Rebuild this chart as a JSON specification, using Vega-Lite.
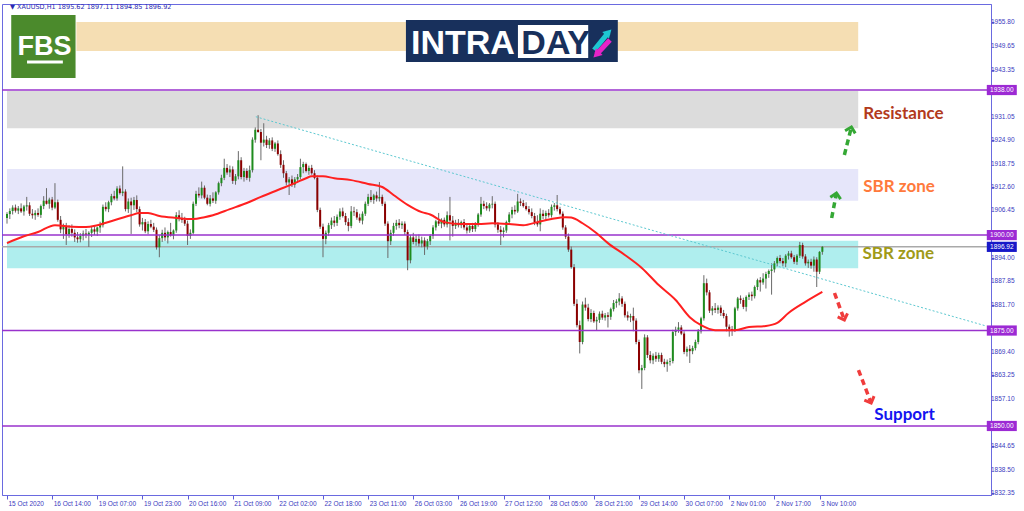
{
"$schema": "https://vega.github.io/schema/vega-lite/v6.json",
"width": 989, "height": 491,
"autosize": {"type": "none"},
"padding": {"left": 2, "top": 4, "right": 33, "bottom": 16},
"background": "white",
"config": {
 "view": {"stroke": "#6a6ae0", "strokeWidth": 1},
 "axis": {"labelFont": "Liberation Sans", "labelFontSize": 6.5, "labelColor": "#3a3ac0", "tickColor": "#5a5ad8", "domainColor": "#6a6ae0", "grid": false, "tickSize": 3, "title": null, "labelOverlap": false, "labelFlush": false, "labelSeparation": 0},
 "axisY": {"labelOverlap": false},
 "axisRight": {"labelOverlap": false},
 "axisQuantitative": {"labelOverlap": false}
},
"resolve": {"scale": {"color": "independent"}},
"datasets": {
 "zones": [
  {"zone": "banner", "x1": 24.6, "x2": 301.7, "p1": 1948.21, "p2": 1955.81},
  {"zone": "resistance", "x1": 0, "x2": 301.7, "p1": 1928.0, "p2": 1937.74},
  {"zone": "sbr_upper", "x1": 0, "x2": 301.7, "p1": 1909.0, "p2": 1917.31},
  {"zone": "sbr_lower", "x1": 0, "x2": 301.7, "p1": 1891.3, "p2": 1898.53}
 ],
 "bid": [{"p": 1896.92}],
 "levels": [{"p": 1938}, {"p": 1900}, {"p": 1875}, {"p": 1850}],
 "candles": [
{"i":0,"o":1904.5,"h":1906.0,"l":1903.0,"c":1905.5},
{"i":1,"o":1905.5,"h":1907.0,"l":1904.2,"c":1906.3},
{"i":2,"o":1906.3,"h":1907.8,"l":1905.4,"c":1907.2},
{"i":3,"o":1907.2,"h":1908.0,"l":1905.9,"c":1906.4},
{"i":4,"o":1906.4,"h":1907.6,"l":1905.5,"c":1907.0},
{"i":5,"o":1907.0,"h":1908.3,"l":1905.8,"c":1906.2},
{"i":6,"o":1906.2,"h":1907.9,"l":1905.1,"c":1907.5},
{"i":7,"o":1907.5,"h":1910.0,"l":1906.4,"c":1907.8},
{"i":8,"o":1907.8,"h":1908.6,"l":1905.0,"c":1905.6},
{"i":9,"o":1905.6,"h":1906.8,"l":1904.3,"c":1905.2},
{"i":10,"o":1905.2,"h":1906.5,"l":1904.0,"c":1905.8},
{"i":11,"o":1905.8,"h":1907.0,"l":1904.8,"c":1905.3},
{"i":12,"o":1905.3,"h":1908.0,"l":1904.5,"c":1907.6},
{"i":13,"o":1907.6,"h":1910.2,"l":1906.8,"c":1909.0},
{"i":14,"o":1909.0,"h":1912.3,"l":1908.0,"c":1908.2},
{"i":15,"o":1908.2,"h":1909.8,"l":1906.9,"c":1909.3},
{"i":16,"o":1909.3,"h":1910.0,"l":1906.5,"c":1907.2},
{"i":17,"o":1907.2,"h":1913.6,"l":1906.8,"c":1908.6},
{"i":18,"o":1908.6,"h":1909.3,"l":1903.5,"c":1904.0},
{"i":19,"o":1904.0,"h":1905.0,"l":1900.5,"c":1901.5},
{"i":20,"o":1901.5,"h":1903.0,"l":1899.0,"c":1902.3},
{"i":21,"o":1902.3,"h":1903.2,"l":1897.4,"c":1900.2},
{"i":22,"o":1900.2,"h":1902.6,"l":1899.3,"c":1901.6},
{"i":23,"o":1901.6,"h":1902.8,"l":1899.6,"c":1900.6},
{"i":24,"o":1900.6,"h":1901.5,"l":1898.2,"c":1899.4},
{"i":25,"o":1899.4,"h":1900.8,"l":1898.0,"c":1898.9},
{"i":26,"o":1898.9,"h":1900.5,"l":1898.1,"c":1899.8},
{"i":27,"o":1899.8,"h":1901.2,"l":1898.6,"c":1900.4},
{"i":28,"o":1900.4,"h":1901.6,"l":1899.2,"c":1900.1},
{"i":29,"o":1900.1,"h":1901.0,"l":1896.9,"c":1900.6},
{"i":30,"o":1900.6,"h":1902.2,"l":1899.5,"c":1901.5},
{"i":31,"o":1901.5,"h":1902.6,"l":1900.0,"c":1900.9},
{"i":32,"o":1900.9,"h":1902.2,"l":1899.8,"c":1902.0},
{"i":33,"o":1902.0,"h":1903.5,"l":1900.6,"c":1902.6},
{"i":34,"o":1902.6,"h":1908.0,"l":1902.0,"c":1907.4},
{"i":35,"o":1907.4,"h":1908.6,"l":1906.2,"c":1906.8},
{"i":36,"o":1906.8,"h":1909.0,"l":1906.0,"c":1908.6},
{"i":37,"o":1908.6,"h":1910.8,"l":1907.8,"c":1910.2},
{"i":38,"o":1910.2,"h":1911.6,"l":1909.1,"c":1909.6},
{"i":39,"o":1909.6,"h":1912.8,"l":1909.0,"c":1912.2},
{"i":40,"o":1912.2,"h":1913.0,"l":1910.6,"c":1911.0},
{"i":41,"o":1911.0,"h":1918.0,"l":1910.2,"c":1911.4},
{"i":42,"o":1911.4,"h":1912.0,"l":1906.2,"c":1906.8},
{"i":43,"o":1906.8,"h":1909.6,"l":1905.8,"c":1908.8},
{"i":44,"o":1908.8,"h":1909.8,"l":1900.3,"c":1907.8},
{"i":45,"o":1907.8,"h":1910.0,"l":1906.6,"c":1909.2},
{"i":46,"o":1909.2,"h":1910.4,"l":1906.0,"c":1906.8},
{"i":47,"o":1906.8,"h":1907.5,"l":1902.2,"c":1902.8},
{"i":48,"o":1902.8,"h":1904.5,"l":1901.2,"c":1903.4},
{"i":49,"o":1903.4,"h":1904.2,"l":1900.5,"c":1901.0},
{"i":50,"o":1901.0,"h":1903.6,"l":1900.2,"c":1902.9},
{"i":51,"o":1902.9,"h":1904.0,"l":1901.8,"c":1902.2},
{"i":52,"o":1902.2,"h":1903.2,"l":1900.8,"c":1901.4},
{"i":53,"o":1901.4,"h":1902.0,"l":1896.2,"c":1896.8},
{"i":54,"o":1896.8,"h":1900.0,"l":1894.2,"c":1899.2},
{"i":55,"o":1899.2,"h":1901.4,"l":1898.2,"c":1900.6},
{"i":56,"o":1900.6,"h":1902.0,"l":1898.5,"c":1899.4},
{"i":57,"o":1899.4,"h":1901.2,"l":1897.8,"c":1900.8},
{"i":58,"o":1900.8,"h":1903.2,"l":1899.6,"c":1899.9},
{"i":59,"o":1899.9,"h":1901.5,"l":1898.9,"c":1901.2},
{"i":60,"o":1901.2,"h":1906.0,"l":1900.6,"c":1905.2},
{"i":61,"o":1905.2,"h":1906.5,"l":1903.6,"c":1904.5},
{"i":62,"o":1904.5,"h":1905.8,"l":1903.2,"c":1904.0},
{"i":63,"o":1904.0,"h":1904.8,"l":1902.4,"c":1903.0},
{"i":64,"o":1903.0,"h":1903.8,"l":1897.4,"c":1899.8},
{"i":65,"o":1899.8,"h":1901.5,"l":1899.0,"c":1900.6},
{"i":66,"o":1900.6,"h":1908.8,"l":1900.2,"c":1908.2},
{"i":67,"o":1908.2,"h":1911.6,"l":1907.6,"c":1910.8},
{"i":68,"o":1910.8,"h":1912.5,"l":1909.8,"c":1910.4},
{"i":69,"o":1910.4,"h":1914.0,"l":1909.6,"c":1912.4},
{"i":70,"o":1912.4,"h":1913.0,"l":1909.4,"c":1909.8},
{"i":71,"o":1909.8,"h":1910.6,"l":1907.8,"c":1908.2},
{"i":72,"o":1908.2,"h":1910.5,"l":1907.5,"c":1909.6},
{"i":73,"o":1909.6,"h":1911.2,"l":1908.4,"c":1909.0},
{"i":74,"o":1909.0,"h":1911.5,"l":1908.2,"c":1911.2},
{"i":75,"o":1911.2,"h":1914.0,"l":1910.6,"c":1913.6},
{"i":76,"o":1913.6,"h":1915.8,"l":1912.8,"c":1915.0},
{"i":77,"o":1915.0,"h":1920.0,"l":1914.4,"c":1917.6},
{"i":78,"o":1917.6,"h":1918.6,"l":1915.8,"c":1916.4},
{"i":79,"o":1916.4,"h":1918.2,"l":1915.2,"c":1917.2},
{"i":80,"o":1917.2,"h":1918.0,"l":1913.4,"c":1914.2},
{"i":81,"o":1914.2,"h":1916.0,"l":1913.2,"c":1915.4},
{"i":82,"o":1915.4,"h":1922.0,"l":1914.6,"c":1919.6},
{"i":83,"o":1919.6,"h":1920.4,"l":1914.6,"c":1915.2},
{"i":84,"o":1915.2,"h":1917.6,"l":1914.0,"c":1916.8},
{"i":85,"o":1916.8,"h":1917.5,"l":1914.4,"c":1915.0},
{"i":86,"o":1915.0,"h":1918.2,"l":1914.0,"c":1917.0},
{"i":87,"o":1917.0,"h":1925.6,"l":1916.4,"c":1925.0},
{"i":88,"o":1925.0,"h":1928.2,"l":1924.2,"c":1927.6},
{"i":89,"o":1927.6,"h":1931.4,"l":1926.8,"c":1927.0},
{"i":90,"o":1927.0,"h":1927.8,"l":1919.6,"c":1924.2},
{"i":91,"o":1924.2,"h":1929.3,"l":1923.2,"c":1925.0},
{"i":92,"o":1925.0,"h":1926.0,"l":1922.8,"c":1923.6},
{"i":93,"o":1923.6,"h":1925.4,"l":1922.6,"c":1924.8},
{"i":94,"o":1924.8,"h":1925.6,"l":1922.0,"c":1922.6},
{"i":95,"o":1922.6,"h":1924.4,"l":1921.8,"c":1924.0},
{"i":96,"o":1924.0,"h":1924.8,"l":1920.8,"c":1921.2},
{"i":97,"o":1921.2,"h":1922.2,"l":1917.6,"c":1918.4},
{"i":98,"o":1918.4,"h":1919.6,"l":1915.0,"c":1916.2},
{"i":99,"o":1916.2,"h":1916.8,"l":1913.0,"c":1913.8},
{"i":100,"o":1913.8,"h":1915.2,"l":1910.5,"c":1914.6},
{"i":101,"o":1914.6,"h":1915.6,"l":1912.6,"c":1913.2},
{"i":102,"o":1913.2,"h":1915.2,"l":1912.4,"c":1914.6},
{"i":103,"o":1914.6,"h":1916.0,"l":1913.8,"c":1915.2},
{"i":104,"o":1915.2,"h":1920.0,"l":1914.6,"c":1917.8},
{"i":105,"o":1917.8,"h":1919.2,"l":1916.2,"c":1918.6},
{"i":106,"o":1918.6,"h":1919.0,"l":1916.4,"c":1916.8},
{"i":107,"o":1916.8,"h":1918.2,"l":1915.8,"c":1917.6},
{"i":108,"o":1917.6,"h":1918.4,"l":1915.8,"c":1916.2},
{"i":109,"o":1916.2,"h":1917.0,"l":1914.6,"c":1915.0},
{"i":110,"o":1915.0,"h":1915.6,"l":1906.0,"c":1906.6},
{"i":111,"o":1906.6,"h":1907.2,"l":1901.6,"c":1902.2},
{"i":112,"o":1902.2,"h":1903.0,"l":1894.2,"c":1899.0},
{"i":113,"o":1899.0,"h":1901.2,"l":1897.6,"c":1900.6},
{"i":114,"o":1900.6,"h":1903.2,"l":1899.8,"c":1902.6},
{"i":115,"o":1902.6,"h":1904.6,"l":1901.6,"c":1903.8},
{"i":116,"o":1903.8,"h":1905.0,"l":1902.2,"c":1903.2},
{"i":117,"o":1903.2,"h":1905.4,"l":1902.4,"c":1904.8},
{"i":118,"o":1904.8,"h":1907.0,"l":1904.0,"c":1906.2},
{"i":119,"o":1906.2,"h":1907.2,"l":1904.6,"c":1905.0},
{"i":120,"o":1905.0,"h":1905.8,"l":1902.6,"c":1903.4},
{"i":121,"o":1903.4,"h":1904.4,"l":1901.0,"c":1902.4},
{"i":122,"o":1902.4,"h":1907.6,"l":1901.8,"c":1906.2},
{"i":123,"o":1906.2,"h":1907.4,"l":1905.0,"c":1906.0},
{"i":124,"o":1906.0,"h":1906.8,"l":1904.0,"c":1904.6},
{"i":125,"o":1904.6,"h":1905.6,"l":1903.2,"c":1903.8},
{"i":126,"o":1903.8,"h":1906.2,"l":1902.8,"c":1905.6},
{"i":127,"o":1905.6,"h":1908.8,"l":1905.0,"c":1908.2},
{"i":128,"o":1908.2,"h":1910.8,"l":1907.6,"c":1910.0},
{"i":129,"o":1910.0,"h":1911.8,"l":1908.6,"c":1909.2},
{"i":130,"o":1909.2,"h":1910.8,"l":1908.2,"c":1910.4},
{"i":131,"o":1910.4,"h":1911.4,"l":1908.8,"c":1909.6},
{"i":132,"o":1909.6,"h":1913.9,"l":1908.8,"c":1910.0},
{"i":133,"o":1910.0,"h":1910.6,"l":1907.6,"c":1908.2},
{"i":134,"o":1908.2,"h":1908.8,"l":1902.4,"c":1903.0},
{"i":135,"o":1903.0,"h":1903.6,"l":1894.0,"c":1898.4},
{"i":136,"o":1898.4,"h":1901.4,"l":1897.4,"c":1900.6},
{"i":137,"o":1900.6,"h":1903.2,"l":1899.8,"c":1902.4},
{"i":138,"o":1902.4,"h":1904.0,"l":1901.4,"c":1903.2},
{"i":139,"o":1903.2,"h":1904.2,"l":1901.8,"c":1902.6},
{"i":140,"o":1902.6,"h":1903.6,"l":1901.6,"c":1903.0},
{"i":141,"o":1903.0,"h":1903.6,"l":1900.0,"c":1900.8},
{"i":142,"o":1900.8,"h":1901.4,"l":1890.8,"c":1893.4},
{"i":143,"o":1893.4,"h":1900.0,"l":1892.6,"c":1899.4},
{"i":144,"o":1899.4,"h":1900.6,"l":1897.6,"c":1898.2},
{"i":145,"o":1898.2,"h":1900.0,"l":1897.2,"c":1899.0},
{"i":146,"o":1899.0,"h":1900.2,"l":1897.0,"c":1897.8},
{"i":147,"o":1897.8,"h":1899.6,"l":1896.8,"c":1898.6},
{"i":148,"o":1898.6,"h":1899.4,"l":1894.8,"c":1897.0},
{"i":149,"o":1897.0,"h":1899.0,"l":1896.2,"c":1898.4},
{"i":150,"o":1898.4,"h":1900.2,"l":1897.4,"c":1899.8},
{"i":151,"o":1899.8,"h":1902.6,"l":1899.0,"c":1902.0},
{"i":152,"o":1902.0,"h":1904.0,"l":1901.2,"c":1903.6},
{"i":153,"o":1903.6,"h":1905.8,"l":1902.4,"c":1903.0},
{"i":154,"o":1903.0,"h":1904.4,"l":1901.8,"c":1904.0},
{"i":155,"o":1904.0,"h":1904.6,"l":1902.2,"c":1902.8},
{"i":156,"o":1902.8,"h":1906.2,"l":1902.0,"c":1905.2},
{"i":157,"o":1905.2,"h":1910.0,"l":1898.6,"c":1903.8},
{"i":158,"o":1903.8,"h":1905.0,"l":1899.6,"c":1902.4},
{"i":159,"o":1902.4,"h":1904.0,"l":1901.6,"c":1903.2},
{"i":160,"o":1903.2,"h":1904.2,"l":1902.0,"c":1902.6},
{"i":161,"o":1902.6,"h":1903.8,"l":1901.8,"c":1903.4},
{"i":162,"o":1903.4,"h":1904.2,"l":1901.4,"c":1902.0},
{"i":163,"o":1902.0,"h":1903.0,"l":1900.4,"c":1901.2},
{"i":164,"o":1901.2,"h":1902.8,"l":1900.6,"c":1902.4},
{"i":165,"o":1902.4,"h":1903.2,"l":1900.8,"c":1901.6},
{"i":166,"o":1901.6,"h":1903.4,"l":1900.9,"c":1902.8},
{"i":167,"o":1902.8,"h":1905.8,"l":1902.2,"c":1905.4},
{"i":168,"o":1905.4,"h":1910.0,"l":1904.8,"c":1908.2},
{"i":169,"o":1908.2,"h":1909.0,"l":1906.8,"c":1907.6},
{"i":170,"o":1907.6,"h":1908.6,"l":1906.4,"c":1907.0},
{"i":171,"o":1907.0,"h":1908.4,"l":1906.2,"c":1908.0},
{"i":172,"o":1908.0,"h":1910.2,"l":1907.0,"c":1908.2},
{"i":173,"o":1908.2,"h":1908.8,"l":1902.0,"c":1902.8},
{"i":174,"o":1902.8,"h":1903.4,"l":1900.6,"c":1901.4},
{"i":175,"o":1901.4,"h":1902.4,"l":1897.4,"c":1900.8},
{"i":176,"o":1900.8,"h":1902.0,"l":1899.4,"c":1901.2},
{"i":177,"o":1901.2,"h":1903.8,"l":1900.6,"c":1903.4},
{"i":178,"o":1903.4,"h":1906.0,"l":1902.8,"c":1905.4},
{"i":179,"o":1905.4,"h":1907.4,"l":1904.4,"c":1906.6},
{"i":180,"o":1906.6,"h":1907.8,"l":1905.4,"c":1906.2},
{"i":181,"o":1906.2,"h":1910.8,"l":1905.8,"c":1908.8},
{"i":182,"o":1908.8,"h":1909.6,"l":1907.6,"c":1908.4},
{"i":183,"o":1908.4,"h":1909.2,"l":1907.2,"c":1907.6},
{"i":184,"o":1907.6,"h":1908.6,"l":1906.4,"c":1906.8},
{"i":185,"o":1906.8,"h":1907.6,"l":1905.4,"c":1906.0},
{"i":186,"o":1906.0,"h":1907.0,"l":1904.4,"c":1905.0},
{"i":187,"o":1905.0,"h":1905.8,"l":1902.6,"c":1903.4},
{"i":188,"o":1903.4,"h":1905.2,"l":1902.2,"c":1902.8},
{"i":189,"o":1902.8,"h":1907.0,"l":1901.0,"c":1905.6},
{"i":190,"o":1905.6,"h":1906.6,"l":1904.2,"c":1905.0},
{"i":191,"o":1905.0,"h":1906.4,"l":1904.0,"c":1905.8},
{"i":192,"o":1905.8,"h":1906.8,"l":1904.6,"c":1905.2},
{"i":193,"o":1905.2,"h":1908.0,"l":1904.6,"c":1907.4},
{"i":194,"o":1907.4,"h":1908.4,"l":1906.4,"c":1907.8},
{"i":195,"o":1907.8,"h":1910.5,"l":1906.2,"c":1906.8},
{"i":196,"o":1906.8,"h":1907.4,"l":1905.2,"c":1905.6},
{"i":197,"o":1905.6,"h":1906.2,"l":1901.4,"c":1902.0},
{"i":198,"o":1902.0,"h":1902.6,"l":1899.0,"c":1899.6},
{"i":199,"o":1899.6,"h":1900.4,"l":1895.6,"c":1896.2},
{"i":200,"o":1896.2,"h":1897.0,"l":1891.2,"c":1891.6},
{"i":201,"o":1891.6,"h":1892.4,"l":1881.4,"c":1882.0},
{"i":202,"o":1882.0,"h":1883.2,"l":1875.8,"c":1876.4},
{"i":203,"o":1876.4,"h":1877.6,"l":1869.0,"c":1872.0},
{"i":204,"o":1872.0,"h":1882.6,"l":1871.4,"c":1881.8},
{"i":205,"o":1881.8,"h":1883.6,"l":1880.2,"c":1881.0},
{"i":206,"o":1881.0,"h":1882.0,"l":1877.4,"c":1878.0},
{"i":207,"o":1878.0,"h":1880.6,"l":1877.2,"c":1879.6},
{"i":208,"o":1879.6,"h":1880.2,"l":1877.0,"c":1877.4},
{"i":209,"o":1877.4,"h":1878.6,"l":1875.1,"c":1877.8},
{"i":210,"o":1877.8,"h":1880.0,"l":1877.0,"c":1879.4},
{"i":211,"o":1879.4,"h":1880.2,"l":1877.8,"c":1878.4},
{"i":212,"o":1878.4,"h":1879.6,"l":1877.6,"c":1879.0},
{"i":213,"o":1879.0,"h":1879.8,"l":1875.8,"c":1878.6},
{"i":214,"o":1878.6,"h":1881.0,"l":1877.8,"c":1880.6},
{"i":215,"o":1880.6,"h":1883.0,"l":1880.0,"c":1882.2},
{"i":216,"o":1882.2,"h":1883.2,"l":1881.0,"c":1882.6},
{"i":217,"o":1882.6,"h":1884.8,"l":1881.6,"c":1883.4},
{"i":218,"o":1883.4,"h":1884.0,"l":1881.2,"c":1882.0},
{"i":219,"o":1882.0,"h":1882.6,"l":1878.4,"c":1879.0},
{"i":220,"o":1879.0,"h":1880.0,"l":1877.6,"c":1878.4},
{"i":221,"o":1878.4,"h":1879.4,"l":1877.2,"c":1878.8},
{"i":222,"o":1878.8,"h":1881.0,"l":1874.8,"c":1877.6},
{"i":223,"o":1877.6,"h":1878.2,"l":1871.4,"c":1872.0},
{"i":224,"o":1872.0,"h":1872.6,"l":1863.8,"c":1864.6},
{"i":225,"o":1864.6,"h":1866.0,"l":1859.7,"c":1865.2},
{"i":226,"o":1865.2,"h":1874.0,"l":1864.6,"c":1873.2},
{"i":227,"o":1873.2,"h":1873.8,"l":1867.8,"c":1868.6},
{"i":228,"o":1868.6,"h":1869.6,"l":1866.4,"c":1867.2},
{"i":229,"o":1867.2,"h":1869.0,"l":1866.2,"c":1868.4},
{"i":230,"o":1868.4,"h":1869.4,"l":1866.8,"c":1867.6},
{"i":231,"o":1867.6,"h":1869.2,"l":1866.8,"c":1868.6},
{"i":232,"o":1868.6,"h":1869.2,"l":1866.2,"c":1866.8},
{"i":233,"o":1866.8,"h":1867.6,"l":1865.4,"c":1866.2},
{"i":234,"o":1866.2,"h":1867.4,"l":1864.2,"c":1866.8},
{"i":235,"o":1866.8,"h":1867.8,"l":1865.8,"c":1867.0},
{"i":236,"o":1867.0,"h":1875.2,"l":1866.4,"c":1874.6},
{"i":237,"o":1874.6,"h":1876.0,"l":1873.6,"c":1875.2},
{"i":238,"o":1875.2,"h":1877.2,"l":1874.4,"c":1875.8},
{"i":239,"o":1875.8,"h":1876.4,"l":1873.8,"c":1874.2},
{"i":240,"o":1874.2,"h":1874.8,"l":1868.8,"c":1869.4},
{"i":241,"o":1869.4,"h":1870.8,"l":1868.2,"c":1870.2},
{"i":242,"o":1870.2,"h":1871.2,"l":1866.5,"c":1869.6},
{"i":243,"o":1869.6,"h":1871.0,"l":1868.8,"c":1870.4},
{"i":244,"o":1870.4,"h":1872.6,"l":1869.8,"c":1872.0},
{"i":245,"o":1872.0,"h":1875.4,"l":1871.4,"c":1874.8},
{"i":246,"o":1874.8,"h":1878.6,"l":1874.2,"c":1878.2},
{"i":247,"o":1878.2,"h":1889.5,"l":1877.6,"c":1887.4},
{"i":248,"o":1887.4,"h":1888.6,"l":1884.2,"c":1885.0},
{"i":249,"o":1885.0,"h":1885.6,"l":1879.6,"c":1880.2},
{"i":250,"o":1880.2,"h":1881.4,"l":1879.0,"c":1880.8},
{"i":251,"o":1880.8,"h":1882.2,"l":1879.6,"c":1880.4},
{"i":252,"o":1880.4,"h":1881.6,"l":1879.4,"c":1881.0},
{"i":253,"o":1881.0,"h":1881.6,"l":1878.8,"c":1879.6},
{"i":254,"o":1879.6,"h":1880.4,"l":1878.2,"c":1878.8},
{"i":255,"o":1878.8,"h":1879.4,"l":1874.8,"c":1876.0},
{"i":256,"o":1876.0,"h":1876.6,"l":1873.4,"c":1875.4},
{"i":257,"o":1875.4,"h":1876.2,"l":1873.6,"c":1875.0},
{"i":258,"o":1875.0,"h":1881.2,"l":1874.6,"c":1880.8},
{"i":259,"o":1880.8,"h":1883.8,"l":1880.2,"c":1883.4},
{"i":260,"o":1883.4,"h":1884.2,"l":1882.0,"c":1883.0},
{"i":261,"o":1883.0,"h":1883.6,"l":1880.6,"c":1881.2},
{"i":262,"o":1881.2,"h":1884.2,"l":1880.0,"c":1883.8},
{"i":263,"o":1883.8,"h":1885.0,"l":1883.0,"c":1884.4},
{"i":264,"o":1884.4,"h":1885.2,"l":1882.8,"c":1884.0},
{"i":265,"o":1884.0,"h":1886.8,"l":1883.4,"c":1886.4},
{"i":266,"o":1886.4,"h":1888.6,"l":1885.6,"c":1888.2},
{"i":267,"o":1888.2,"h":1889.0,"l":1885.2,"c":1887.6},
{"i":268,"o":1887.6,"h":1890.0,"l":1887.0,"c":1888.6},
{"i":269,"o":1888.6,"h":1890.4,"l":1886.0,"c":1889.8},
{"i":270,"o":1889.8,"h":1891.0,"l":1888.8,"c":1890.6},
{"i":271,"o":1890.6,"h":1892.6,"l":1884.4,"c":1891.0},
{"i":272,"o":1891.0,"h":1893.2,"l":1890.2,"c":1892.6},
{"i":273,"o":1892.6,"h":1894.4,"l":1891.8,"c":1894.0},
{"i":274,"o":1894.0,"h":1894.8,"l":1892.6,"c":1893.2},
{"i":275,"o":1893.2,"h":1894.0,"l":1891.8,"c":1892.6},
{"i":276,"o":1892.6,"h":1895.0,"l":1891.6,"c":1894.6},
{"i":277,"o":1894.6,"h":1895.8,"l":1893.6,"c":1895.2},
{"i":278,"o":1895.2,"h":1895.9,"l":1893.8,"c":1894.2},
{"i":279,"o":1894.2,"h":1894.8,"l":1892.4,"c":1893.0},
{"i":280,"o":1893.0,"h":1895.0,"l":1892.2,"c":1894.6},
{"i":281,"o":1894.6,"h":1898.2,"l":1894.0,"c":1897.4},
{"i":282,"o":1897.4,"h":1898.0,"l":1893.8,"c":1894.4},
{"i":283,"o":1894.4,"h":1895.0,"l":1892.0,"c":1892.6},
{"i":284,"o":1892.6,"h":1893.6,"l":1891.4,"c":1893.0},
{"i":285,"o":1893.0,"h":1893.8,"l":1891.2,"c":1892.0},
{"i":286,"o":1892.0,"h":1894.4,"l":1890.4,"c":1893.6},
{"i":287,"o":1893.6,"h":1894.2,"l":1886.4,"c":1890.4},
{"i":288,"o":1890.4,"h":1895.8,"l":1889.8,"c":1895.6},
{"i":289,"o":1895.62,"h":1897.11,"l":1894.85,"c":1896.92}
 ],
 "ma": [
{"i":0,"v":1897.9},{"i":6,"v":1899.7},{"i":11,"v":1900.8},{"i":17,"v":1902.6},{"i":23,"v":1902.2},{"i":28,"v":1902.1},{"i":32,"v":1902.6},{"i":38,"v":1903.9},{"i":44,"v":1905.2},{"i":47,"v":1905.8},{"i":50,"v":1905.8},{"i":54,"v":1905.0},{"i":60,"v":1904.5},{"i":66,"v":1904.2},{"i":70,"v":1904.7},{"i":73,"v":1905.2},{"i":79,"v":1906.8},{"i":85,"v":1908.4},{"i":90,"v":1910.0},{"i":96,"v":1911.8},{"i":102,"v":1913.6},{"i":106,"v":1914.9},{"i":108,"v":1915.4},{"i":112,"v":1915.4},{"i":116,"v":1914.9},{"i":122,"v":1914.4},{"i":128,"v":1913.4},{"i":133,"v":1912.6},{"i":137,"v":1910.5},{"i":142,"v":1907.9},{"i":147,"v":1906.0},{"i":150,"v":1905.4},{"i":155,"v":1903.4},{"i":161,"v":1902.9},{"i":167,"v":1902.9},{"i":172,"v":1903.1},{"i":178,"v":1902.9},{"i":183,"v":1902.6},{"i":188,"v":1903.4},{"i":193,"v":1904.2},{"i":198,"v":1904.7},{"i":200,"v":1904.6},{"i":204,"v":1903.1},{"i":209,"v":1900.5},{"i":213,"v":1897.9},{"i":219,"v":1894.8},{"i":225,"v":1891.4},{"i":231,"v":1886.9},{"i":237,"v":1883.0},{"i":242,"v":1878.5},{"i":246,"v":1876.4},{"i":251,"v":1875.1},{"i":258,"v":1875.1},{"i":263,"v":1875.9},{"i":269,"v":1876.2},{"i":273,"v":1877.0},{"i":277,"v":1879.6},{"i":283,"v":1882.5},{"i":289,"v":1885.1}
 ],
 "trend": [{"i": 88.2, "p": 1931.0}, {"i": 347, "p": 1876.2}],
 "arrows": [
  {"dir": "up", "i1": 292.3, "p1": 1904.47, "i2": 294.0, "p2": 1911.02, "heading": 11},
  {"dir": "up", "i1": 296.8, "p1": 1920.98, "i2": 299.3, "p2": 1928.31, "heading": 14},
  {"dir": "down", "i1": 293.3, "p1": 1884.83, "i2": 296.8, "p2": 1877.76, "heading": 160},
  {"dir": "down", "i1": 301.8, "p1": 1864.66, "i2": 306.3, "p2": 1856.02, "heading": 158}
 ],
 "notes": [
  {"t": "Resistance", "kind": "res", "i": 303.5, "p": 1931.71},
  {"t": "SBR zone", "kind": "sbr1", "i": 303.5, "p": 1912.59},
  {"t": "SBR zone", "kind": "sbr2", "i": 303.2, "p": 1895.05},
  {"t": "Support", "kind": "sup", "i": 307.4, "p": 1852.88}
 ],
 "pricetags": [
  {"p": 1938, "t": "1938.00", "kind": "level"},
  {"p": 1900, "t": "1900.00", "kind": "level"},
  {"p": 1875, "t": "1875.00", "kind": "level"},
  {"p": 1850, "t": "1850.00", "kind": "level"},
  {"p": 1896.92, "t": "1896.92", "kind": "bid"}
 ],
 "ylabels": [
  {"p": 1955.8}, {"p": 1949.65}, {"p": 1943.35}, {"p": 1931.05}, {"p": 1924.9}, {"p": 1918.75}, {"p": 1912.6}, {"p": 1906.45}, {"p": 1894.0}, {"p": 1887.85}, {"p": 1881.7}, {"p": 1869.4}, {"p": 1863.25}, {"p": 1857.1}, {"p": 1844.65}, {"p": 1838.5}, {"p": 1832.35}
 ],
 "header": [{"t": "▼ XAUUSD,H1  1895.62 1897.11 1894.85 1896.92", "i": 1.05, "p": 1959.74}],
 "fbsbox": [{"i1": 1.5, "i2": 24.3, "p1": 1941.14, "p2": 1957.64}],
 "fbsline": [{"i1": 7.1, "i2": 19.8, "p": 1945.33}],
 "fbstext": [{"t": "FBS", "i": 13.3, "p": 1947.3}],
 "navy": [{"i1": 141.4, "i2": 216.5, "p1": 1945.33, "p2": 1956.33}],
 "daybox": [{"i1": 181.1, "i2": 206.0, "p1": 1946.38, "p2": 1955.02}],
 "logotext": [
  {"t": "INTRA", "part": "a", "i": 143.2, "p": 1947.56},
  {"t": "DAY", "part": "b", "i": 182.3, "p": 1947.56}
 ],
 "icon": [
  {"part": "up", "i1": 208.1, "p1": 1948.48, "i2": 213.2, "p2": 1953.1, "heading": 45},
  {"part": "down", "i1": 213.7, "p1": 1951.1, "i2": 208.9, "p2": 1947.3, "heading": 225}
 ]
},
"layer": [
 {
  "data": {"name": "zones"},
  "mark": {"type": "rect"},
  "encoding": {
   "x": {"field": "x1", "type": "quantitative", "scale": {"domain": [0, 347], "nice": false, "zero": false},
    "axis": {"orient": "bottom", "values": [0,16,32,48,64,80,96,112,128,144,160,176,192,208,224,240,256,272,288],
     "labelExpr": "['15 Oct 2020','16 Oct 14:00','19 Oct 07:00','19 Oct 23:00','20 Oct 16:00','21 Oct 09:00','22 Oct 02:00','22 Oct 18:00','23 Oct 11:00','26 Oct 03:00','26 Oct 19:00','27 Oct 12:00','28 Oct 05:00','28 Oct 21:00','29 Oct 14:00','30 Oct 07:00','2 Nov 01:00','2 Nov 17:00','3 Nov 10:00'][round(datum.value/16)]",
     "labelAlign": "left", "labelOffset": 1, "labelPadding": 1, "labelFlush": false, "labelOverlap": false, "tickSize": 4, "title": null}},
   "x2": {"field": "x2"},
   "y": {"field": "p1", "type": "quantitative", "scale": {"domain": [1831.92, 1960.53], "nice": false, "zero": false},
    "axis": {"orient": "right", "values": [1955.8,1949.65,1943.35,1931.05,1924.9,1918.75,1912.6,1906.45,1894.0,1887.85,1881.7,1869.4,1863.25,1857.1,1844.65,1838.5,1832.35],
     "labels": false, "tickSize": 3, "title": null}},
   "y2": {"field": "p2"},
   "color": {"field": "zone", "type": "nominal", "legend": null,
    "scale": {"domain": ["banner", "resistance", "sbr_upper", "sbr_lower"], "range": ["#f5deb3", "#dcdcdc", "#e6e6fa", "#afeeee"]}}
  }
 },
 {
  "data": {"name": "bid"},
  "mark": {"type": "rule", "color": "#a9a9a9", "strokeWidth": 1.5},
  "encoding": {"y": {"field": "p", "type": "quantitative", "title": null}}
 },
 {
  "data": {"name": "candles"},
  "mark": {"type": "rule", "color": "#6a6a6a", "strokeWidth": 1},
  "encoding": {
   "x": {"field": "i", "type": "quantitative", "title": null},
   "y": {"field": "l", "type": "quantitative", "title": null},
   "y2": {"field": "h"}
  }
 },
 {
  "data": {"name": "candles"},
  "mark": {"type": "bar", "size": 2, "orient": "vertical"},
  "encoding": {
   "x": {"field": "i", "type": "quantitative", "title": null},
   "y": {"field": "o", "type": "quantitative", "title": null},
   "y2": {"field": "c"},
   "color": {"condition": {"test": "datum.c >= datum.o", "value": "#1e8c1e"}, "value": "#8b0000"}
  }
 },
 {
  "data": {"name": "levels"},
  "mark": {"type": "rule", "color": "#9932cc", "strokeWidth": 1.5},
  "encoding": {"y": {"field": "p", "type": "quantitative", "title": null}}
 },
 {
  "data": {"name": "ma"},
  "mark": {"type": "line", "color": "#ff2020", "strokeWidth": 2, "interpolate": "monotone"},
  "encoding": {
   "x": {"field": "i", "type": "quantitative", "title": null},
   "y": {"field": "v", "type": "quantitative", "title": null}
  }
 },
 {
  "data": {"name": "trend"},
  "mark": {"type": "line", "color": "#5cc8d0", "strokeWidth": 1, "strokeDash": [2, 2]},
  "encoding": {
   "x": {"field": "i", "type": "quantitative", "title": null},
   "y": {"field": "p", "type": "quantitative", "title": null}
  }
 },
 {
  "data": {"name": "arrows"},
  "mark": {"type": "rule", "strokeWidth": 3.5, "strokeDash": [6, 4]},
  "encoding": {
   "x": {"field": "i1", "type": "quantitative", "title": null},
   "x2": {"field": "i2"},
   "y": {"field": "p1", "type": "quantitative", "title": null},
   "y2": {"field": "p2"},
   "color": {"field": "dir", "type": "nominal", "legend": null, "scale": {"domain": ["up", "down"], "range": ["#35a835", "#f03c3c"]}}
  }
 },
 {
  "data": {"name": "arrows"},
  "mark": {"type": "point", "shape": "M-1,1L0,0L1,1", "filled": false, "strokeWidth": 3, "size": 110, "opacity": 1},
  "encoding": {
   "x": {"field": "i2", "type": "quantitative", "title": null},
   "y": {"field": "p2", "type": "quantitative", "title": null},
   "angle": {"field": "heading", "type": "quantitative", "scale": null},
   "color": {"field": "dir", "type": "nominal", "legend": null, "scale": {"domain": ["up", "down"], "range": ["#35a835", "#f03c3c"]}}
  }
 },
 {
  "data": {"name": "notes"},
  "mark": {"type": "text", "align": "left", "baseline": "middle", "font": "Lato", "fontSize": 17, "fontWeight": "bold"},
  "encoding": {
   "x": {"field": "i", "type": "quantitative", "title": null},
   "y": {"field": "p", "type": "quantitative", "title": null},
   "text": {"field": "t"},
   "color": {"field": "kind", "type": "nominal", "legend": null, "scale": {"domain": ["res", "sbr1", "sbr2", "sup"], "range": ["#b23a1c", "#ff7a3c", "#a09a18", "#1414f0"]}}
  }
 },
 {
  "data": {"name": "ylabels"},
  "mark": {"type": "text", "align": "left", "baseline": "middle", "font": "Liberation Sans", "fontSize": 6.5, "color": "#3a3ac0", "dx": 5},
  "encoding": {
   "x": {"datum": 347, "type": "quantitative"},
   "y": {"field": "p", "type": "quantitative", "title": null},
   "text": {"field": "p", "type": "quantitative", "format": ".2f"}
  }
 },
 {
  "data": {"name": "pricetags"},
  "mark": {"type": "point", "shape": "M-1,-0.34H1V0.34H-1Z", "filled": true, "size": 900, "opacity": 1},
  "encoding": {
   "x": {"datum": 352.6, "type": "quantitative"},
   "y": {"field": "p", "type": "quantitative", "title": null},
   "color": {"field": "kind", "type": "nominal", "legend": null, "scale": {"domain": ["level", "bid"], "range": ["#9c2ad4", "#1818c8"]}}
  }
 },
 {
  "data": {"name": "pricetags"},
  "mark": {"type": "text", "align": "center", "baseline": "middle", "font": "Liberation Sans", "fontSize": 6.5, "color": "white"},
  "encoding": {
   "x": {"datum": 352.6, "type": "quantitative"},
   "y": {"field": "p", "type": "quantitative", "title": null},
   "text": {"field": "t"}
  }
 },
 {
  "data": {"name": "header"},
  "mark": {"type": "text", "align": "left", "baseline": "middle", "font": "DejaVu Sans", "fontSize": 6.5, "color": "#2a2ab0"},
  "encoding": {
   "x": {"field": "i", "type": "quantitative", "title": null},
   "y": {"field": "p", "type": "quantitative", "title": null},
   "text": {"field": "t"}
  }
 },
 {
  "data": {"name": "fbsbox"},
  "mark": {"type": "rect", "color": "#4b8a2c"},
  "encoding": {
   "x": {"field": "i1", "type": "quantitative", "title": null}, "x2": {"field": "i2"},
   "y": {"field": "p1", "type": "quantitative", "title": null}, "y2": {"field": "p2"}
  }
 },
 {
  "data": {"name": "fbsline"},
  "mark": {"type": "rule", "color": "white", "strokeWidth": 3},
  "encoding": {
   "x": {"field": "i1", "type": "quantitative", "title": null}, "x2": {"field": "i2"},
   "y": {"field": "p", "type": "quantitative", "title": null}
  }
 },
 {
  "data": {"name": "fbstext"},
  "mark": {"type": "text", "align": "center", "baseline": "alphabetic", "font": "Liberation Sans Narrow, Liberation Sans", "fontSize": 27, "fontWeight": "bold", "color": "white"},
  "encoding": {
   "x": {"field": "i", "type": "quantitative", "title": null},
   "y": {"field": "p", "type": "quantitative", "title": null},
   "text": {"field": "t"}
  }
 },
 {
  "data": {"name": "navy"},
  "mark": {"type": "rect", "color": "#18305c"},
  "encoding": {
   "x": {"field": "i1", "type": "quantitative", "title": null}, "x2": {"field": "i2"},
   "y": {"field": "p1", "type": "quantitative", "title": null}, "y2": {"field": "p2"}
  }
 },
 {
  "data": {"name": "daybox"},
  "mark": {"type": "rect", "color": "white"},
  "encoding": {
   "x": {"field": "i1", "type": "quantitative", "title": null}, "x2": {"field": "i2"},
   "y": {"field": "p1", "type": "quantitative", "title": null}, "y2": {"field": "p2"}
  }
 },
 {
  "data": {"name": "logotext"},
  "mark": {"type": "text", "align": "left", "baseline": "alphabetic", "font": "Liberation Sans", "fontSize": 34, "fontWeight": "bold"},
  "encoding": {
   "x": {"field": "i", "type": "quantitative", "title": null},
   "y": {"field": "p", "type": "quantitative", "title": null},
   "text": {"field": "t"},
   "color": {"field": "part", "type": "nominal", "legend": null, "scale": {"domain": ["a", "b"], "range": ["#ffffff", "#18305c"]}}
  }
 },
 {
  "data": {"name": "icon"},
  "mark": {"type": "rule", "strokeWidth": 5},
  "encoding": {
   "x": {"field": "i1", "type": "quantitative", "title": null}, "x2": {"field": "i2"},
   "y": {"field": "p1", "type": "quantitative", "title": null}, "y2": {"field": "p2"},
   "color": {"field": "part", "type": "nominal", "legend": null, "scale": {"domain": ["up", "down"], "range": ["#1ec8d2", "#e524c8"]}}
  }
 },
 {
  "data": {"name": "icon"},
  "mark": {"type": "point", "shape": "triangle-up", "filled": true, "size": 90, "opacity": 1},
  "encoding": {
   "x": {"field": "i2", "type": "quantitative", "title": null},
   "y": {"field": "p2", "type": "quantitative", "title": null},
   "angle": {"field": "heading", "type": "quantitative", "scale": null},
   "color": {"field": "part", "type": "nominal", "legend": null, "scale": {"domain": ["up", "down"], "range": ["#1ec8d2", "#e524c8"]}}
  }
 }
]
}
